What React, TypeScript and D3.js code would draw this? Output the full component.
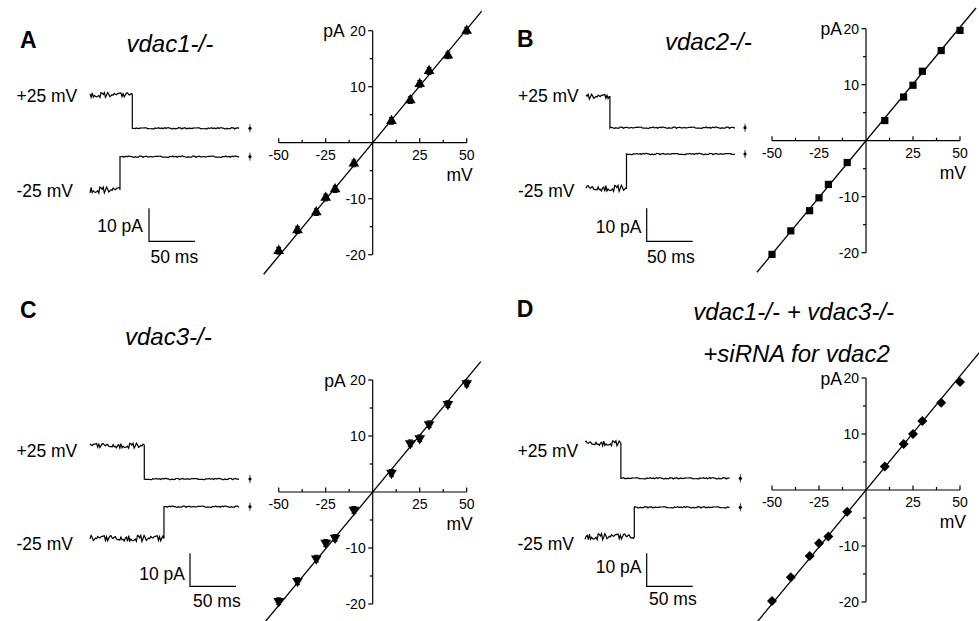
import React from 'react';
import * as d3 from 'd3';

// overall canvas
const svgWidth = 979;
const svgHeight = 621;
const font = '"Liberation Sans", Arial, Helvetica, sans-serif';

// I-V data: holding voltage (mV) and mean single channel current (pA)
const voltages = [-50, -40, -30, -25, -20, -10, 10, 20, 25, 30, 40, 50];
const currentsA = [-19.3, -15.6, -12.4, -9.8, -8.3, -3.7, 3.9, 7.6, 10.5, 12.8, 15.6, 20.0];
const currentsB = [-20.3, -16.1, -12.5, -10.2, -7.8, -3.9, 3.6, 7.8, 9.9, 12.4, 16.1, 19.7];
const currentsC = [-19.5, -15.9, -11.9, -9.1, -8.2, -3.2, 3.4, 8.7, 9.6, 12.1, 15.7, 19.4];
const currentsD = [-19.8, -15.6, -11.8, -9.5, -8.3, -3.9, 4.2, 8.2, 10.0, 12.3, 15.6, 19.3];
const errorsPA = [0.6, 0.3, 0.6, 0.3]; // sem per panel
const conductances = [0.405, 0.405, 0.405, 0.407]; // nS, fitted line slope
const fitRanges = [[-58, 58], [-58, 58.5], [-58.5, 57.5], [-60, 62]];

// axis ticks
const xTicks = [-50, -25, 25, 50];
const xMinorTicks = [-37.5, -12.5, 12.5, 37.5];
const yTicks = [-20, -10, 10, 20];
const yMinorTicks = [-15, -5, 5, 15];

// single channel traces (ms, pA)
const traceDurations = [163, 162, 163, 158];
const stepPlus = [46, 26, 59, 39];
const stepMinus = [32.6, 44, 80.4, 53.6];
const openPlus = [10.1, 9.4, 10.1, 10.6];
const openMinus = [-10.1, -10.4, -9.6, -8.9];
const traceNoise = [0.4, -0.6, 0.9, -0.2, 0.1, -0.9, 0.5, 0.7, -0.4, -0.1, 0.8, -0.7, 0.2, -0.3, 0.6, -0.8,
  0.0, 0.9, -0.5, 0.3, -0.2, 0.7, -0.9, 0.4, 0.1, -0.6, 0.8, -0.1, -0.4, 0.5, -0.7, 0.2, 0.9, -0.3,
  0.6, -0.5, 0.0, 0.3, -0.8, 0.7, -0.2, 0.4, -0.6, 0.1, 0.8, -0.9, 0.5, -0.3];

const panelLetters = ['A', 'B', 'C', 'D'];
const panelTitles = [['vdac1-/-'], ['vdac2-/-'], ['vdac3-/-'], ['vdac1-/- + vdac3-/-', '+siRNA for vdac2']];
const currentSets = [currentsA, currentsB, currentsC, currentsD];

// layout of each panel (pixels)
const layouts = [
  { ox: 372.7, oy: 142.7, pAdx: 28, letter: [20, 48], titles: [[126.5, 51.5]],
    tx: 90, plusY: 128.3, minusY: 156.7, plusLbl: 101.7, minusLbl: 197.3, lblX: 16.5,
    bar: [149, 208.3], barTxt: [143, 231.7, 150.5, 263] },
  { ox: 866, oy: 140.7, pAdx: 24, letter: [517, 46.7], titles: [[665, 50]],
    tx: 586, plusY: 127.7, minusY: 154, plusLbl: 101.7, minusLbl: 196.7, lblX: 518,
    bar: [646.7, 208.3], barTxt: [641.5, 233.3, 647, 263.3] },
  { ox: 372.7, oy: 492, pAdx: 27, letter: [20, 318], titles: [[125, 345]],
    tx: 90, plusY: 479, minusY: 506.7, plusLbl: 456.7, minusLbl: 550, lblX: 16.5,
    bar: [190, 553.3], barTxt: [185, 580, 193, 606.7] },
  { ox: 866, oy: 490, pAdx: 24, letter: [516.7, 317.3], titles: [[693.3, 320], [703.3, 361.7]],
    tx: 585, plusY: 478.3, minusY: 507.3, plusLbl: 456.7, minusLbl: 550, lblX: 517.5,
    bar: [646.7, 553.3], barTxt: [641.5, 572.7, 649, 605] },
];

const pxPerMV = 94 / 50;
const pxPerPA = 5.6;
const traceMsPx = 0.92; // 50 ms = 46 px
const tracePAPx = 3.3;  // 10 pA = 33 px

const markerShapes = [d3.symbolTriangle, d3.symbolSquare, d3.symbolTriangle, d3.symbolSquare];
const markerSizes = [50, 52, 50, 50];
const markerRotate = [0, 0, 180, 45];

// build points of one single-channel trace
function tracePoints(dur: number, step: number, open: number, offset: number, openAmp: number) {
  const pts: [number, number][] = [];
  const dt = 1.2;
  const n = traceNoise.length;
  let i = 0;
  for (let t = 0; t <= step; t += dt, i++) {
    pts.push([t, open + traceNoise[(i * 5 + offset) % n] * openAmp]);
  }
  pts.push([step, open]);
  pts.push([step, 0]);
  for (let t = Math.ceil(step / dt) * dt; t <= dur; t += dt, i++) {
    pts.push([t, traceNoise[(i * 7 + offset) % n] * 0.22]);
  }
  return pts;
}

function Panel({ idx }: { idx: number }) {
  const L = layouts[idx];
  const x = d3.scaleLinear().domain([0, 50]).range([L.ox, L.ox + 50 * pxPerMV]);
  const y = d3.scaleLinear().domain([0, 20]).range([L.oy, L.oy - 20 * pxPerPA]);
  const currents = currentSets[idx];
  const g = conductances[idx];
  const [f0, f1] = fitRanges[idx];
  const sym = d3.symbol().type(markerShapes[idx]).size(markerSizes[idx]);
  const err = errorsPA[idx];

  // trace scales
  const tX = d3.scaleLinear().domain([0, 50]).range([L.tx, L.tx + 50 * traceMsPx]);
  const tYp = d3.scaleLinear().domain([0, 10]).range([L.plusY, L.plusY - 10 * tracePAPx]);
  const tYm = d3.scaleLinear().domain([0, 10]).range([L.minusY, L.minusY - 10 * tracePAPx]);
  const lineP = d3.line<[number, number]>().x(d => tX(d[0])).y(d => tYp(d[1]));
  const lineM = d3.line<[number, number]>().x(d => tX(d[0])).y(d => tYm(d[1]));
  const dur = traceDurations[idx];
  const plusPts = tracePoints(dur, stepPlus[idx], openPlus[idx], idx * 7, 0.8);
  const minusPts = tracePoints(dur, stepMinus[idx], openMinus[idx], idx * 11 + 5, 1.0);
  const markX = tX(dur) + 10;

  const [bx, by] = L.bar;
  const sbW = 50 * traceMsPx;
  const sbH = 10 * tracePAPx;

  return (
    <g>
      <text x={L.letter[0]} y={L.letter[1]} fontSize={23} fontWeight="bold">{panelLetters[idx]}</text>
      {panelTitles[idx].map((t, i) => (
        <text key={i} x={L.titles[i][0]} y={L.titles[i][1]} fontSize={24} fontStyle="italic">{t}</text>
      ))}

      {/* traces */}
      <text x={L.lblX} y={L.plusLbl} fontSize={17.5}>+25 mV</text>
      <text x={L.lblX} y={L.minusLbl} fontSize={17.5}>-25 mV</text>
      <path d={lineP(plusPts) || ''} fill="none" stroke="#000" strokeWidth={1.2} />
      <path d={lineM(minusPts) || ''} fill="none" stroke="#000" strokeWidth={1.2} />
      {[tYp(0), tYm(0)].map((my, i) => (
        <g key={i}>
          <line x1={markX} x2={markX} y1={my - 4} y2={my + 4} stroke="#000" strokeWidth={0.8} />
          <circle cx={markX} cy={my} r={1.6} fill="#000" />
        </g>
      ))}
      <path d={`M${bx},${by}V${by + sbH}H${bx + sbW}`} fill="none" stroke="#000" strokeWidth={1.2} />
      <text x={L.barTxt[0]} y={L.barTxt[1]} fontSize={17.5} textAnchor="end">10 pA</text>
      <text x={L.barTxt[2]} y={L.barTxt[3]} fontSize={17.5}>50 ms</text>

      {/* I-V plot axes */}
      <line x1={x(-50)} x2={x(50)} y1={y(0)} y2={y(0)} stroke="#000" strokeWidth={1.2} />
      <line x1={x(0)} x2={x(0)} y1={y(-20)} y2={y(20)} stroke="#000" strokeWidth={1.2} />
      {xTicks.map(t => (
        <g key={'xt' + t}>
          <line x1={x(t)} x2={x(t)} y1={y(0)} y2={y(0) - 4.5} stroke="#000" strokeWidth={1.2} />
          <text x={x(t)} y={y(0) + 17} fontSize={14} textAnchor="middle">{t}</text>
        </g>
      ))}
      {xMinorTicks.map(t => (
        <line key={'xm' + t} x1={x(t)} x2={x(t)} y1={y(0)} y2={y(0) - 3} stroke="#000" strokeWidth={1.2} />
      ))}
      {yTicks.map(t => (
        <g key={'yt' + t}>
          <line x1={x(0)} x2={x(0) - 4.5} y1={y(t)} y2={y(t)} stroke="#000" strokeWidth={1.2} />
          <text x={x(0) - 7} y={y(t)} dy="0.35em" fontSize={14} textAnchor="end">{t}</text>
        </g>
      ))}
      {yMinorTicks.map(t => (
        <line key={'ym' + t} x1={x(0)} x2={x(0) - 3} y1={y(t)} y2={y(t)} stroke="#000" strokeWidth={1.2} />
      ))}
      <text x={x(0) - L.pAdx} y={y(20) + 6.5} fontSize={17.5} textAnchor="end">pA</text>
      <text x={x(0) + 100} y={y(0) + 38} fontSize={17.5} textAnchor="end">mV</text>

      {/* fitted line */}
      <line x1={x(f0)} y1={y(f0 * g)} x2={x(f1)} y2={y(f1 * g)} stroke="#000" strokeWidth={1.3} />

      {/* data points */}
      {voltages.map((v, i) => (
        <g key={'p' + i}>
          <line x1={x(v)} x2={x(v)} y1={y(currents[i] - err)} y2={y(currents[i] + err)} stroke="#000" strokeWidth={1} />
          <line x1={x(v) - 2.5} x2={x(v) + 2.5} y1={y(currents[i] + err)} y2={y(currents[i] + err)} stroke="#000" strokeWidth={1} />
          <line x1={x(v) - 2.5} x2={x(v) + 2.5} y1={y(currents[i] - err)} y2={y(currents[i] - err)} stroke="#000" strokeWidth={1} />
          <path d={sym() || ''} transform={`translate(${x(v)},${y(currents[i])}) rotate(${markerRotate[idx]})`} fill="#000" />
        </g>
      ))}
    </g>
  );
}

export default function App() {
  return (
    <svg width={svgWidth} height={svgHeight} fontFamily={font}
      style={{ position: 'absolute', left: 0, top: 0, background: '#fff' }}>
      <rect width={svgWidth} height={svgHeight} fill="#fff" />
      {[0, 1, 2, 3].map(i => <Panel key={i} idx={i} />)}
    </svg>
  );
}
